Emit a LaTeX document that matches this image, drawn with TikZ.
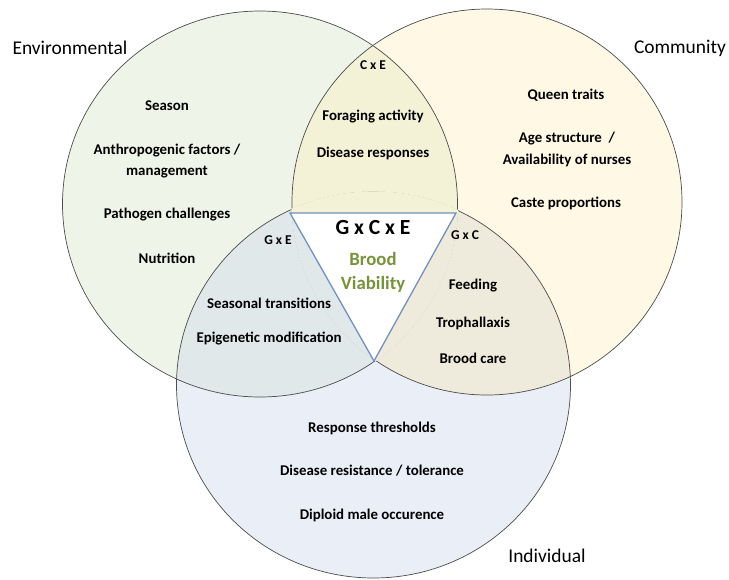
\documentclass[tikz,border=0pt]{standalone}
\usepackage{fontspec}
\setmainfont{Carlito}
\definecolor{envFill}{HTML}{EFF4E9}
\definecolor{comFill}{HTML}{FEF8E4}
\definecolor{indFill}{HTML}{E9EEF7}
\definecolor{ceFill}{HTML}{F3F1D6}
\definecolor{geFill}{HTML}{E0E8EA}
\definecolor{gcFill}{HTML}{EFEBDC}
\definecolor{coreLine}{HTML}{7090C0}
\definecolor{broodGreen}{HTML}{77933C}
\tikzstyle{ringStyle}=[draw=black!70, line width = 0.6pt]
\tikzstyle{itemStyle}=[font = \fontsize{12.7}{18.7}\selectfont\bfseries, align = center, inner sep = 0pt]
\tikzstyle{titleStyle}=[font = \fontsize{16.6}{20}\selectfont, inner sep = 0pt]
\tikzstyle{pairStyle}=[font = \fontsize{11.5}{13}\selectfont\bfseries, inner sep = 0pt]
\newcommand{\envRing}[1]{(260,204) ellipse [x radius = {197.5+#1}, y radius = {193+#1}]}
\newcommand{\comRing}[1]{(487,202) ellipse [x radius = {195+#1}, y radius = {193+#1}]}
\newcommand{\indRing}[1]{(373.5,385) ellipse [x radius = {197+#1}, y radius = {193+#1}]}

\begin{document}
\begin{tikzpicture}[x = 0.03cm, y = -0.03cm]
\tikzstyle{coreStyle}=[draw = coreLine, line width = 1.1pt, fill = white]
\useasboundingbox (0,0) rectangle (729,579);
% the three sets
\fill[envFill] \envRing{0};
\fill[comFill] \comRing{0};
\fill[indFill] \indRing{0};
\begin{scope}
\clip \envRing{0};
\fill[ceFill] \comRing{0};
\fill[geFill] \indRing{0};
\end{scope}
\begin{scope}
\clip \comRing{0};
\fill[gcFill] \indRing{0};
\end{scope}
\draw[ringStyle] \envRing{0};
\draw[ringStyle] \comRing{0};
\draw[ringStyle] \indRing{0};
% centre
\coordinate (k0) at (290,213);
\coordinate (k1) at (456,213);
\coordinate (k2) at (374,361);
\begin{scope}
\clip \envRing{0.7};
\clip \comRing{0.7};
\clip \indRing{0.7};
\fill[ceFill] (0,0) rectangle (729,213);
\fill[gcFill] (k1) -- (k2) -- (729,579) -- (729,213) -- cycle;
\fill[geFill] (k0) -- (k2) -- (0,579) -- (0,213) -- cycle;
\end{scope}
\draw[coreStyle] (k0) -- (k1) -- (k2) -- cycle;
% labels
\node[titleStyle] (env) at (70,48) {Environmental};
\node[titleStyle] (com) at (680,48) {Community};
\node[titleStyle] (ind) at (547,556) {Individual};
\node[itemStyle] (e0) at (167,106) {Season};
\node[itemStyle] (e1) at (167,161) {Anthropogenic factors /\\ management};
\node[itemStyle] (e2) at (167,215) {Pathogen challenges};
\node[itemStyle] (e3) at (167,258) {Nutrition};
\node[itemStyle] (c0) at (566,95) {Queen traits};
\node[itemStyle] (c1) at (567,149) {Age structure~~/\\ Availability of nurses};
\node[itemStyle] (c2) at (566,203) {Caste proportions};
\node[itemStyle] (i0) at (372,428) {Response thresholds};
\node[itemStyle] (i1) at (372,471) {Disease resistance / tolerance};
\node[itemStyle] (i2) at (372,515) {Diploid male occurence};
\node[pairStyle] (ce) at (373,65) {C x E};
\node[itemStyle] (ce0) at (373,117) {Foraging activity};
\node[itemStyle] (ce1) at (373,153) {Disease responses};
\node[pairStyle] (ge) at (278,240) {G x E};
\node[itemStyle] (ge0) at (269,303) {Seasonal transitions};
\node[itemStyle] (ge1) at (269,339) {Epigenetic modification};
\node[pairStyle] (gc) at (465,235) {G x C};
\node[itemStyle] (gc0) at (473,286) {Feeding};
\node[itemStyle] (gc1) at (473,323) {Trophallaxis};
\node[itemStyle] (gc2) at (473,358) {Brood care};
\node[font = \fontsize{18.4}{22}\selectfont\bfseries, inner sep = 0pt] (gce) at (373,227) {G x C x E};
\node[font = \fontsize{16}{20.4}\selectfont\bfseries, text = broodGreen, align = center, inner sep = 0pt] (bv) at (373,272) {Brood\\ Viability};
\end{tikzpicture}
\end{document}
